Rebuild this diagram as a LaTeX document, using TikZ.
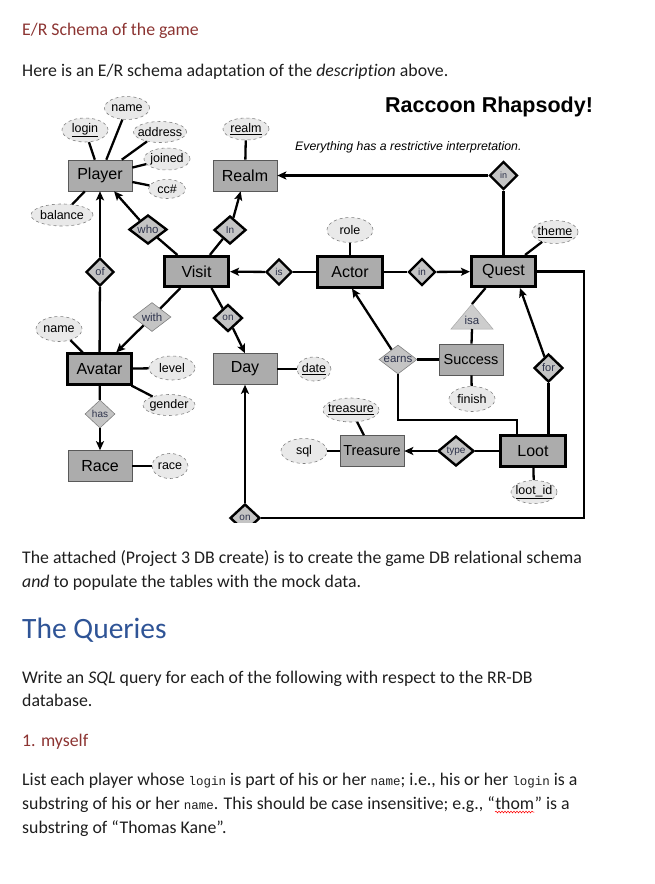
\documentclass[tikz,border=0pt]{standalone}
\usepackage{fontspec}
\setmainfont{Carlito}[Ligatures=NoCommon]
\newfontfamily\arialf{Liberation Sans}
\newfontfamily\monof{Liberation Mono}
\usetikzlibrary{shapes.geometric,arrows.meta,calc,decorations.pathmorphing}
\definecolor{hdred}{RGB}{140,52,50}
\definecolor{hdblue}{RGB}{47,84,150}
\definecolor{bodytx}{RGB}{30,30,30}
\definecolor{entfill}{RGB}{172,172,172}
\definecolor{attfill}{RGB}{233,233,233}
\definecolor{relfill}{RGB}{196,196,196}
\definecolor{reltx}{RGB}{45,50,75}
\newcommand\zb[1]{\makebox[0pt]{#1}}
\newcommand\cd[1]{{\monof\fontsize{12.5}{14}\selectfont #1}}
\begin{document}
\begin{tikzpicture}[x=1pt,y=-1pt,
  conn/.style={line width=2.3pt, draw=black},
  arr/.style={conn, -{Stealth[length=9pt,width=8pt,inset=2pt]}},
  ent/.style={rectangle, draw=gray!70!black, line width=0.6pt, fill=entfill, inner sep=0pt,
    minimum width=64pt, minimum height=31pt, font=\arialf\fontsize{16}{16}\selectfont},
  entk/.style={ent, draw=black, line width=2.6pt, minimum width=64.5pt, minimum height=30.5pt},
  att/.style={ellipse, draw=gray, dashed, line width=0.6pt, fill=attfill, inner sep=0pt,
    font=\arialf\fontsize{12.5}{12}\selectfont},
  rel/.style={diamond, draw=black, line width=2.4pt, fill=relfill, inner sep=0pt,
    font=\arialf\fontsize{10}{10}\selectfont, text=reltx},
  relt/.style={rel, draw=gray, line width=0.6pt},
  body/.style={anchor=base west, inner sep=0pt, font=\fontsize{17.8}{20}\selectfont, text=bodytx},
  wavy/.style={draw=red, line width=0.5pt, decorate, decoration={snake, amplitude=0.9pt, segment length=3pt}},
]
\useasboundingbox (0,0) rectangle (655,884);

\node[body, text=hdred] (h1) at (22,35) {E/R Schema of the game};
\node[body] (p1) at (22,76) {Here is an E/R schema adaptation of the \textit{description} above.};

\begin{scope}
\clip (0,88) rectangle (655,522);
\node[anchor=base, font=\arialf\bfseries\fontsize{21.5}{21}\selectfont, inner sep=0pt] (title) at (489,112) {Raccoon Rhapsody!};
\node[anchor=base west, font=\arialf\itshape\fontsize{12.3}{12}\selectfont, inner sep=0pt] (motto) at (295,150) {Everything has a restrictive interpretation.};

% entities
\node[ent] (player) at (100,175.5) {Player};
\node[ent] (realm) at (245,175.5) {Realm};
\node[entk] (visit) at (196.5,271.5) {Visit};
\node[entk] (actor) at (350,272) {Actor};
\node[entk] (quest) at (503.5,271.5) {Quest};
\node[entk] (avatar) at (99.5,369) {Avatar};
\node[ent] (day) at (245,369) {Day};
\node[ent, font=\arialf\fontsize{14.5}{14}\selectfont] (success) at (471,359.5) {Success};
\node[ent, font=\arialf\fontsize{14.5}{14}\selectfont] (treasure) at (372,451) {Treasure};
\node[entk] (loot) at (533,451) {Loot};
\node[ent] (race) at (100,466) {Race};

% attributes
\node[att, minimum width=45pt, minimum height=23pt] (pname) at (127,108) {\zb{name}};
\node[att, minimum width=46pt, minimum height=24pt] (login) at (85,130) {\zb{\underline{login}}};
\node[att, minimum width=53pt, minimum height=21pt] (address) at (160,132) {\zb{address}};
\node[att, minimum width=46pt, minimum height=22pt] (joined) at (167,159) {\zb{joined}};
\node[att, minimum width=37pt, minimum height=19pt] (cc) at (167,189) {\zb{cc\#}};
\node[att, minimum width=46pt, minimum height=22pt] (realmA) at (246,129) {\zb{\underline{realm}}};
\node[att, minimum width=62pt, minimum height=22pt] (balance) at (62,215) {\zb{balance}};
\node[att, minimum width=46pt, minimum height=25pt] (role) at (350,230) {\zb{role}};
\node[att, minimum width=46pt, minimum height=23pt] (theme) at (555,232) {\zb{\underline{theme}}};
\node[att, minimum width=46pt, minimum height=25pt] (aname) at (59,329) {\zb{name}};
\node[att, minimum width=46pt, minimum height=24pt] (level) at (172,368) {\zb{level}};
\node[att, minimum width=52pt, minimum height=21pt] (gender) at (169,405) {\zb{gender}};
\node[att, minimum width=34pt, minimum height=24pt] (date) at (314,369) {\zb{\underline{date}}};
\node[att, minimum width=56pt, minimum height=24pt] (treasA) at (351,410) {\zb{\underline{treasure}}};
\node[att, minimum width=46pt, minimum height=25pt] (finish) at (472,399) {\zb{finish}};
\node[att, minimum width=46pt, minimum height=25pt] (sql) at (304,451) {\zb{sql}};
\node[att, minimum width=36pt, minimum height=25pt] (raceA) at (170,466) {\zb{race}};
\node[att, minimum width=46pt, minimum height=23pt] (lootid) at (534,492) {\zb{\underline{loot\_id}}};

% relationships
\node[rel, minimum width=38pt, minimum height=29pt, font=\arialf\fontsize{11.5}{10}\selectfont] (who) at (148,229.5) {\zb{who}};
\node[rel, minimum width=32pt, minimum height=28pt] (inR) at (230,230) {\zb{In}};
\node[rel, minimum width=28pt, minimum height=28pt, font=\arialf\fontsize{11}{10}\selectfont] (of) at (100,272) {\zb{of}};
\node[rel, minimum width=26pt, minimum height=26pt] (is) at (279,272) {\zb{is}};
\node[rel, minimum width=27pt, minimum height=27pt] (inQ) at (422,272) {\zb{in}};
\node[rel, minimum width=28pt, minimum height=28pt, font=\arialf\fontsize{9}{9}\selectfont] (inT) at (503.5,175.5) {\zb{in}};
\node[relt, minimum width=38pt, minimum height=29pt, font=\arialf\fontsize{11.5}{10}\selectfont] (with) at (152,317) {\zb{with}};
\node[rel, minimum width=29pt, minimum height=27pt] (onD) at (228,318) {\zb{on}};
\node[relt, minimum width=30pt, minimum height=28pt] (has) at (100,414) {\zb{has}};
\node[relt, minimum width=38pt, minimum height=29pt, font=\arialf\fontsize{11.5}{10}\selectfont] (earns) at (398,359.5) {\zb{earns}};
\node[rel, minimum width=29pt, minimum height=28pt, font=\arialf\fontsize{11}{10}\selectfont] (for) at (548.5,368) {\zb{for}};
\node[rel, minimum width=36pt, minimum height=30pt] (type) at (456,451) {\zb{type}};
\node[rel, minimum width=30pt, minimum height=28pt] (onB) at (245,518) {\zb{on}};

% isa triangle
\coordinate (isaTop) at (472,304);
\coordinate (isaL) at (451,329);
\coordinate (isaR) at (493,329);
\coordinate (isaBase) at (472,329);
\draw[fill=relfill!85!white, draw=gray!70, line width=0.5pt] (isaL) -- (isaTop) -- (isaR) -- cycle;
\node[font=\arialf\fontsize{11.5}{10}\selectfont, text=reltx, inner sep=0pt] (isa) at (472,320) {isa};

% helper coordinates
\coordinate (qc1) at (584,518);
\coordinate (qc2) at (584,271.5);
\coordinate (ec1) at (398,420);
\coordinate (ec2) at (517,420);

% connectors
\draw[conn] (login) -- (player);
\draw[conn] (pname) -- (player);
\draw[conn] (address) -- (player);
\draw[conn] (joined) -- (player);
\draw[conn] (cc) -- (player);
\draw[conn] (balance) -- (player);
\draw[conn] (realmA) -- (realm);
\draw[arr] (who) -- (player);
\draw[conn] (visit) -- (who);
\draw[arr] (inR) -- (realm);
\draw[conn] (visit) -- (inR);
\draw[arr] (of) -- (player);
\draw[conn] (avatar) -- (of);
\draw[arr] (is) -- (visit);
\draw[conn] (actor) -- (is);
\draw[arr] (inQ) -- (quest);
\draw[conn] (actor) -- (inQ);
\draw[conn] (quest) -- (inT);
\draw[arr] (inT) -- (realm);
\draw[conn] (visit) -- (with);
\draw[arr] (with) -- (avatar);
\draw[conn] ($(visit.south)+(15,0)$) -- (onD);
\draw[arr] (onD) -- (day.north);
\draw[conn] (avatar) -- (has);
\draw[arr] (has) -- (race);
\draw[conn] (aname) -- (avatar);
\draw[conn] (level) -- (avatar);
\draw[conn] (gender) -- (avatar);
\draw[conn] (raceA) -- (race);
\draw[conn] (date) -- (day);
\draw[arr] (onB) -- (day);
\draw[conn] (onB) -- (qc1) -- (qc2) -- (quest);
\draw[conn] (role) -- (actor);
\draw[conn] (theme) -- (quest);
\draw[arr] (earns) -- ($(actor.south)+(2,0)$);
\draw[conn] (earns) -- (success);
\draw[conn] (earns) -- (ec1) -- (ec2) -- (ec2 |- loot.north);
\draw[arr] (for) -- ($(quest.south)+(16.5,0)$);
\draw[conn] (for) -- (for |- loot.north);
\draw[conn] ($(quest.south)+(-18,0)$) -- (isaTop);
\draw[conn] (isaBase) -- (success);
\draw[conn] (success) -- (finish);
\draw[conn] (treasA) -- (treasure);
\draw[conn] (sql) -- (treasure);
\draw[arr] (type) -- (treasure);
\draw[conn] (loot) -- (type);
\draw[conn] (lootid) -- (loot);
\end{scope}

\node[body] (p2) at (22,563) {The attached (Project 3 DB create) is to create the game DB relational schema};
\node[body] (p3) at (22,587) {\textit{and} to populate the tables with the mock data.};
\node[body, text=hdblue, font=\fontsize{29.5}{30}\selectfont] (h2) at (22,638) {The Queries};
\node[body] (p4) at (22,683) {Write an \textit{SQL} query for each of the following with respect to the RR-DB};
\node[body] (p5) at (22,706) {database.};
\node[body, text=hdred] (h3) at (22,746) {1. myself};
\node[body] (p6) at (22,785) {List each player whose \cd{login} is part of his or her \cd{name}; i.e., his or her \cd{login} is a};
\node[body] (p7a) at (22,809) {substring of his or her \cd{name}. This should be case insensitive; e.g., “};
\node[body] (thom) at (p7a.base east) {thom};
\node[body] (p7c) at (thom.base east) {” is a};
\draw[wavy] ($(thom.base west)+(0,3)$) -- ($(thom.base east)+(0,3)$);
\node[body] (p8) at (22,833) {substring of “Thomas Kane”.};
\end{tikzpicture}
\end{document}
